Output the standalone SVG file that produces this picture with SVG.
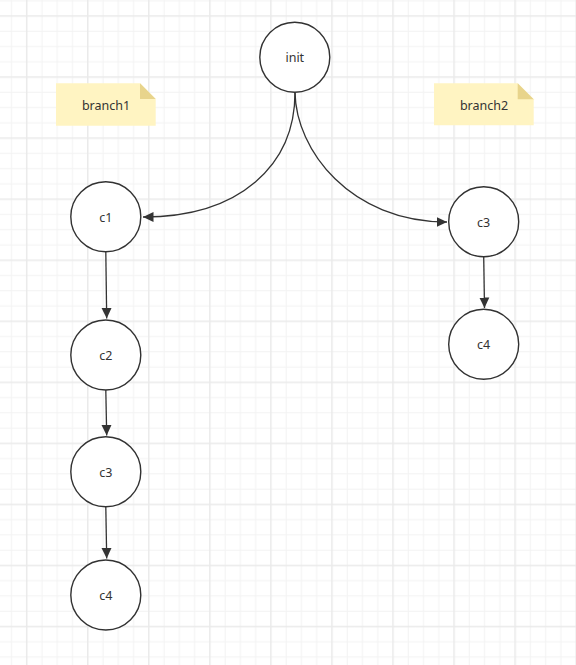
<svg xmlns="http://www.w3.org/2000/svg" width="576" height="665" viewBox="0 0 576 665">
  <style>
    .node circle { fill: #ffffff; stroke: #323232; stroke-width: 1.4; }
    .lbl { font-family: "Noto Sans", "Open Sans", "DejaVu Sans", sans-serif; font-size: 12.5px; fill: #333333; text-anchor: middle; dominant-baseline: central; }
    .note-body { fill: #fff4c2; }
    .note-fold { fill: #e8d48c; }
    .edge { fill: none; stroke: #333333; stroke-width: 1.3; }
  </style>
  <defs>
    <pattern id="grid" patternUnits="userSpaceOnUse" x="-11.46" y="-22.16" width="61.05" height="61.05">
      <g stroke="#f2f2f2" stroke-width="1">
        <line x1="7.63" y1="0" x2="7.63" y2="61.05"/>
        <line x1="22.89" y1="0" x2="22.89" y2="61.05"/>
        <line x1="53.42" y1="0" x2="53.42" y2="61.05"/>
        <line x1="0" y1="7.63" x2="61.05" y2="7.63"/>
        <line x1="0" y1="22.89" x2="61.05" y2="22.89"/>
        <line x1="0" y1="53.42" x2="61.05" y2="53.42"/>
      </g>
      <g stroke="#eaeaea" stroke-width="1.5">
        <line x1="38.16" y1="0" x2="38.16" y2="61.05"/>
        <line x1="0" y1="38.16" x2="61.05" y2="38.16"/>
      </g>
    </pattern>
    <marker id="arrow" markerUnits="userSpaceOnUse" markerWidth="12" markerHeight="12" refX="10.5" refY="6" orient="auto">
      <path d="M0,1 L10.5,6 L0,11 Z" fill="#333333"/>
    </marker>
  </defs>

  <rect width="576" height="665" fill="#ffffff"/>
  <rect width="576" height="665" fill="url(#grid)"/>

  <g id="note-branch1">
    <polygon class="note-body" points="56,83.3 140,83.3 155.7,99 155.7,125.7 56,125.7"/>
    <polygon class="note-fold" points="140,83.3 155.7,99 140,99"/>
    <text class="lbl" x="106" y="105">branch1</text>
  </g>
  <g id="note-branch2">
    <polygon class="note-body" points="434,83.3 517.7,83.3 533.7,99.3 533.7,125.3 434,125.3"/>
    <polygon class="note-fold" points="517.7,83.3 533.7,99.3 517.7,99.3"/>
    <text class="lbl" x="484" y="105">branch2</text>
  </g>

  <g id="connectors">
    <path class="edge" marker-end="url(#arrow)" d="M295,92.5 C295,165 240,217 143,217"/>
    <path class="edge" marker-end="url(#arrow)" d="M295,92.5 C296,150 350,222 447,222"/>
    <path class="edge" marker-end="url(#arrow)" d="M105.8,251.7 L106.7,318.5"/>
    <path class="edge" marker-end="url(#arrow)" d="M105.8,390 L106.7,435.5"/>
    <path class="edge" marker-end="url(#arrow)" d="M105.8,506.7 L106.7,558.5"/>
    <path class="edge" marker-end="url(#arrow)" d="M483.7,256.7 L484.5,308"/>
  </g>

  <g id="node-init" class="node">
    <circle cx="294.8" cy="57.3" r="35"/>
    <text class="lbl" x="294.8" y="57.8">init</text>
  </g>
  <g id="node-c1" class="node">
    <circle cx="105.8" cy="216.7" r="35"/>
    <text class="lbl" x="105.8" y="217.2">c1</text>
  </g>
  <g id="node-c2" class="node">
    <circle cx="105.8" cy="355" r="35"/>
    <text class="lbl" x="105.8" y="355.5">c2</text>
  </g>
  <g id="node-c3-left" class="node">
    <circle cx="105.8" cy="471.7" r="35"/>
    <text class="lbl" x="105.8" y="472.2">c3</text>
  </g>
  <g id="node-c4-left" class="node">
    <circle cx="105.8" cy="595" r="35"/>
    <text class="lbl" x="105.8" y="595.5">c4</text>
  </g>
  <g id="node-c3-right" class="node">
    <circle cx="483.7" cy="221.7" r="35"/>
    <text class="lbl" x="483.7" y="222.2">c3</text>
  </g>
  <g id="node-c4-right" class="node">
    <circle cx="483.7" cy="344.3" r="35"/>
    <text class="lbl" x="483.7" y="344.8">c4</text>
  </g>
</svg>
